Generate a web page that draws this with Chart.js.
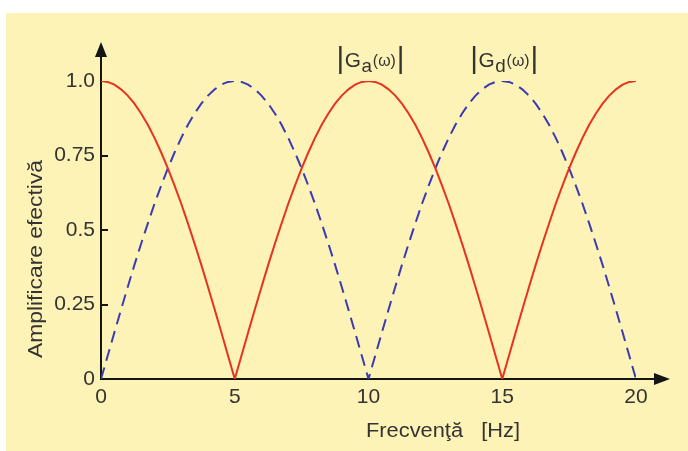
<!DOCTYPE html>
<html>
<head>
<meta charset="utf-8">
<script src="https://cdn.jsdelivr.net/npm/chart.js@4.4.1/dist/chart.umd.min.js"></script>
<style>
  html, body { margin: 0; padding: 0; background: #ffffff; overflow: hidden; }
  #wrap { position: relative; width: 688px; height: 451px; }
</style>
</head>
<body>
<div id="wrap"><canvas id="chart" width="688" height="451"></canvas></div>
<script>
// Frequency samples [Hz]
const frequencies = [
  0, 0.25, 0.5, 0.75, 1, 1.25, 1.5, 1.75, 2, 2.25, 2.5, 2.75, 3, 3.25, 3.5, 3.75, 4, 4.25, 4.5, 4.75,
  5, 5.25, 5.5, 5.75, 6, 6.25, 6.5, 6.75, 7, 7.25, 7.5, 7.75, 8, 8.25, 8.5, 8.75, 9, 9.25, 9.5, 9.75,
  10, 10.25, 10.5, 10.75, 11, 11.25, 11.5, 11.75, 12, 12.25, 12.5, 12.75, 13, 13.25, 13.5, 13.75, 14, 14.25, 14.5, 14.75,
  15, 15.25, 15.5, 15.75, 16, 16.25, 16.5, 16.75, 17, 17.25, 17.5, 17.75, 18, 18.25, 18.5, 18.75, 19, 19.25, 19.5, 19.75,
  20
];

// |Ga(ω)| – effective gain, solid red curve
const gainGa = [
  1.000, 0.997, 0.988, 0.972, 0.951, 0.924, 0.891, 0.853, 0.809, 0.760, 0.707, 0.649, 0.588, 0.522, 0.454, 0.383, 0.309, 0.233, 0.156, 0.078,
  0.000, 0.078, 0.156, 0.233, 0.309, 0.383, 0.454, 0.522, 0.588, 0.649, 0.707, 0.760, 0.809, 0.853, 0.891, 0.924, 0.951, 0.972, 0.988, 0.997,
  1.000, 0.997, 0.988, 0.972, 0.951, 0.924, 0.891, 0.853, 0.809, 0.760, 0.707, 0.649, 0.588, 0.522, 0.454, 0.383, 0.309, 0.233, 0.156, 0.078,
  0.000, 0.078, 0.156, 0.233, 0.309, 0.383, 0.454, 0.522, 0.588, 0.649, 0.707, 0.760, 0.809, 0.853, 0.891, 0.924, 0.951, 0.972, 0.988, 0.997,
  1.000
];

// |Gd(ω)| – effective gain, dashed blue curve
const gainGd = [
  0.000, 0.078, 0.156, 0.233, 0.309, 0.383, 0.454, 0.522, 0.588, 0.649, 0.707, 0.760, 0.809, 0.853, 0.891, 0.924, 0.951, 0.972, 0.988, 0.997,
  1.000, 0.997, 0.988, 0.972, 0.951, 0.924, 0.891, 0.853, 0.809, 0.760, 0.707, 0.649, 0.588, 0.522, 0.454, 0.383, 0.309, 0.233, 0.156, 0.078,
  0.000, 0.078, 0.156, 0.233, 0.309, 0.383, 0.454, 0.522, 0.588, 0.649, 0.707, 0.760, 0.809, 0.853, 0.891, 0.924, 0.951, 0.972, 0.988, 0.997,
  1.000, 0.997, 0.988, 0.972, 0.951, 0.924, 0.891, 0.853, 0.809, 0.760, 0.707, 0.649, 0.588, 0.522, 0.454, 0.383, 0.309, 0.233, 0.156, 0.078,
  0.000
];

const xTickLabels = ['0', '5', '10', '15', '20'];
const yTickLabels = ['0', '0.25', '0.5', '0.75', '1.0'];
const yInnerTicks = [0.25, 0.5, 0.75];

const xTitle = 'Frecvenţă   [Hz]';
const yTitle = 'Amplificare efectivă';

// Curve labels: main letter, subscript, argument, placed over the given frequency
const curveLabels = [
  { at: 10, main: 'G', sub: 'a', arg: '(ω)' },
  { at: 15, main: 'G', sub: 'd', arg: '(ω)' }
];

const FONT = '"Liberation Sans", Arial, Helvetica, sans-serif';
const TEXT = '#333333';
const AXIS = '#151515';

function toPoints(ys) {
  return frequencies.map((f, i) => ({ x: f, y: ys[i] }));
}

// draws text squeezed/stretched horizontally to a given width
function fitText(ctx, text, x, y, width, font, align) {
  ctx.save();
  ctx.font = font;
  const w = ctx.measureText(text).width;
  ctx.translate(x, y);
  ctx.scale(width / w, 1);
  ctx.textAlign = align;
  ctx.fillText(text, 0, 0);
  ctx.restore();
}

const framePlugin = {
  id: 'frame',
  beforeDraw(chart) {
    const ctx = chart.ctx;
    ctx.save();
    ctx.fillStyle = '#ffffff';
    ctx.fillRect(0, 0, chart.width, chart.height);
    ctx.fillStyle = '#fdf3b6';
    ctx.fillRect(6, 13, chart.width - 6, chart.height - 13);
    ctx.restore();
  },
  beforeDatasetsDraw(chart) {
    const ctx = chart.ctx;
    const a = chart.chartArea;
    const x0 = a.left, y0 = a.bottom;
    ctx.save();
    ctx.strokeStyle = AXIS;
    ctx.fillStyle = AXIS;
    ctx.lineWidth = 2;
    // vertical axis with arrow
    ctx.beginPath();
    ctx.moveTo(x0, y0 + 1);
    ctx.lineTo(x0, 54);
    ctx.stroke();
    ctx.beginPath();
    ctx.moveTo(x0, 42);
    ctx.lineTo(x0 - 6, 57);
    ctx.lineTo(x0 + 6, 57);
    ctx.closePath();
    ctx.fill();
    // horizontal axis with arrow
    ctx.beginPath();
    ctx.moveTo(x0 - 1, y0);
    ctx.lineTo(658, y0);
    ctx.stroke();
    ctx.beginPath();
    ctx.moveTo(670, y0);
    ctx.lineTo(654, y0 - 6);
    ctx.lineTo(654, y0 + 6);
    ctx.closePath();
    ctx.fill();
    // inward tick marks on the vertical axis
    const ys = chart.scales.y;
    ctx.lineWidth = 2;
    yInnerTicks.forEach(v => {
      const py = Math.round(ys.getPixelForValue(v));
      ctx.beginPath();
      ctx.moveTo(x0, py);
      ctx.lineTo(x0 + 7, py);
      ctx.stroke();
    });
    ctx.restore();
  },
  afterDraw(chart) {
    const ctx = chart.ctx;
    const xs = chart.scales.x;
    ctx.save();
    ctx.fillStyle = TEXT;
    ctx.textBaseline = 'middle';

    // axis titles
    fitText(ctx, xTitle, 443, 431, 154, '20px ' + FONT, 'center');
    ctx.save();
    ctx.translate(36, 259);
    ctx.rotate(-Math.PI / 2);
    fitText(ctx, yTitle, 0, 0, 198, '21px ' + FONT, 'center');
    ctx.restore();

    // curve labels |G_x(ω)|
    ctx.textBaseline = 'alphabetic';
    curveLabels.forEach(lbl => {
      const parts = [
        { t: '|', font: '30px ' + FONT, dy: 0 },
        { t: lbl.main, font: '21px ' + FONT, dy: -1, gap: 1 },
        { t: lbl.sub, font: '19px ' + FONT, dy: 4 },
        { t: lbl.arg, font: '16px ' + FONT, dy: -2, gap: 2 },
        { t: '|', font: '30px ' + FONT, dy: 0 }
      ];
      let total = 0;
      parts.forEach(p => {
        ctx.font = p.font;
        p.w = ctx.measureText(p.t).width;
        total += p.w + (p.gap || 0);
      });
      const targetW = 68;
      const s = targetW / total;
      const cx = xs.getPixelForValue(lbl.at) + 2;
      const base = 68;
      ctx.save();
      ctx.translate(cx - targetW / 2, base);
      ctx.scale(s, 1);
      let x = 0;
      parts.forEach(p => {
        ctx.font = p.font;
        ctx.textAlign = 'left';
        ctx.fillText(p.t, x + (p.gap || 0) / 2, p.dy);
        x += p.w + (p.gap || 0);
      });
      ctx.restore();
    });
    ctx.restore();
  }
};

new Chart(document.getElementById('chart'), {
  type: 'line',
  data: {
    datasets: [
      {
        label: '|Ga(ω)|',
        data: toPoints(gainGa),
        borderColor: '#e8321f',
        borderWidth: 2,
        pointRadius: 0,
        tension: 0,
        fill: false
      },
      {
        label: '|Gd(ω)|',
        data: toPoints(gainGd),
        borderColor: '#3b3ab6',
        borderWidth: 2,
        borderDash: [12, 7],
        pointRadius: 0,
        tension: 0,
        fill: false
      }
    ]
  },
  options: {
    responsive: false,
    animation: false,
    events: [],
    layout: { padding: { top: 81, right: 52, left: 0, bottom: 0 } },
    plugins: {
      legend: { display: false },
      tooltip: { enabled: false },
      title: { display: false }
    },
    scales: {
      x: {
        type: 'linear',
        min: 0,
        max: 20,
        grid: { display: false, drawTicks: false },
        border: { display: false },
        ticks: {
          stepSize: 5,
          maxRotation: 0,
          autoSkip: false,
          padding: 6,
          color: TEXT,
          font: { family: FONT, size: 21 },
          callback: (v, i) => xTickLabels[i]
        },
        afterFit: (scale) => { scale.height = 72; }
      },
      y: {
        type: 'linear',
        min: 0,
        max: 1,
        grid: { display: false, drawTicks: false },
        border: { display: false },
        ticks: {
          stepSize: 0.25,
          autoSkip: false,
          padding: 6,
          color: TEXT,
          font: { family: FONT, size: 21 },
          callback: (v, i) => yTickLabels[i]
        },
        afterFit: (scale) => { scale.width = 101; }
      }
    }
  },
  plugins: [framePlugin]
});
</script>
</body>
</html>
